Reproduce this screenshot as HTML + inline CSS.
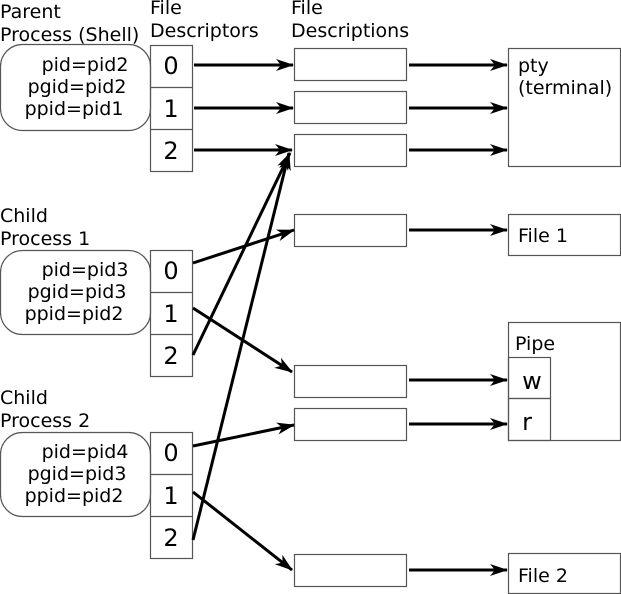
<!DOCTYPE html><html><head><style>body{margin:0;background:#fff}svg{display:block}text{font-family:"DejaVu Sans","Liberation Sans",sans-serif;fill:#000}</style></head><body>
<svg width="621" height="594" viewBox="0 0 621 594">
<defs><marker id="a" markerWidth="18" markerHeight="12" refX="17" refY="6" orient="auto" markerUnits="userSpaceOnUse" viewBox="0 0 18 12"><path d="M0,0 L18,6 L0,12 L5,6z" fill="#000"/></marker></defs>
<g font-size="19">
<text x="0" y="18">Parent</text><text x="0" y="41">Process (Shell)</text>
<text x="150" y="14">File</text><text x="150" y="37">Descriptors</text>
<text x="291" y="14">File</text><text x="291" y="37">Descriptions</text>
<text x="0" y="222">Child</text><text x="0" y="245">Process 1</text>
<text x="0" y="404">Child</text><text x="0" y="427">Process 2</text>
</g>
<g fill="none" stroke="#555" stroke-width="1.2">
<rect x="0.5" y="44.5" width="150" height="86" rx="22"/>
<rect x="0.5" y="250.5" width="150" height="84" rx="22"/>
<rect x="0.5" y="432.5" width="150" height="84" rx="22"/>
<rect x="150.5" y="45.5" width="42" height="126"/><line x1="150" y1="87.5" x2="192" y2="87.5"/><line x1="150" y1="129.5" x2="192" y2="129.5"/>
<rect x="150.5" y="250.5" width="42" height="126"/><line x1="150" y1="292.5" x2="192" y2="292.5"/><line x1="150" y1="334.5" x2="192" y2="334.5"/>
<rect x="150.5" y="432.5" width="42" height="126"/><line x1="150" y1="474.5" x2="192" y2="474.5"/><line x1="150" y1="516.5" x2="192" y2="516.5"/>
<rect x="294.5" y="48.5" width="112" height="32"/><rect x="294.5" y="91.5" width="112" height="32"/><rect x="294.5" y="134.5" width="112" height="32"/>
<rect x="294.5" y="214.5" width="112" height="32"/><rect x="294.5" y="365.5" width="112" height="32"/><rect x="294.5" y="408.5" width="112" height="32"/><rect x="294.5" y="554.5" width="112" height="32"/>
<rect x="508.5" y="48.5" width="112" height="118"/><rect x="508.5" y="214.5" width="112" height="41"/>
<rect x="508.5" y="322.5" width="112" height="118"/><rect x="508.5" y="357.5" width="42" height="41"/><rect x="508.5" y="398.5" width="42" height="42"/>
<rect x="508.5" y="553.5" width="112" height="40"/>
</g>
<g font-size="19" text-anchor="middle">
<text x="85" y="71">pid=pid2</text><text x="77" y="93">pgid=pid2</text><text x="74" y="115">ppid=pid1</text>
<text x="85" y="276">pid=pid3</text><text x="77" y="298">pgid=pid3</text><text x="74" y="320">ppid=pid2</text>
<text x="85" y="458">pid=pid4</text><text x="77" y="480">pgid=pid3</text><text x="74" y="502">ppid=pid2</text>
</g>
<g font-size="24" text-anchor="middle">
<text x="171" y="74">0</text><text x="171" y="117">1</text><text x="171" y="159">2</text>
<text x="171" y="279">0</text><text x="171" y="322">1</text><text x="171" y="364">2</text>
<text x="171" y="461">0</text><text x="171" y="504">1</text><text x="171" y="546">2</text>
<text x="532" y="389">w</text><text x="527" y="430">r</text>
</g>
<g font-size="19"><text x="518" y="72">pty</text><text x="518" y="94">(terminal)</text><text x="518" y="242">File 1</text><text x="515" y="350">Pipe</text><text x="518" y="582">File 2</text></g>
<g stroke="#000" stroke-width="3" marker-end="url(#a)">
<line x1="194" y1="65" x2="293" y2="65"/><line x1="194" y1="108" x2="293" y2="108"/><line x1="194" y1="150" x2="292" y2="150"/>
<line x1="409" y1="65" x2="507" y2="65"/><line x1="409" y1="108" x2="507" y2="108"/><line x1="409" y1="150" x2="507" y2="150"/>
<line x1="409" y1="230" x2="507" y2="230"/><line x1="409" y1="380" x2="507" y2="380"/><line x1="409" y1="424" x2="507" y2="424"/><line x1="409" y1="570" x2="507" y2="570"/>
<line x1="193" y1="263" x2="294" y2="230"/><line x1="193" y1="308" x2="292" y2="372"/><line x1="193" y1="355" x2="290" y2="153"/>
<line x1="193" y1="446" x2="294" y2="425"/><line x1="193" y1="492" x2="292" y2="570"/><line x1="193" y1="540" x2="289" y2="153"/>
</g>
</svg></body></html>
